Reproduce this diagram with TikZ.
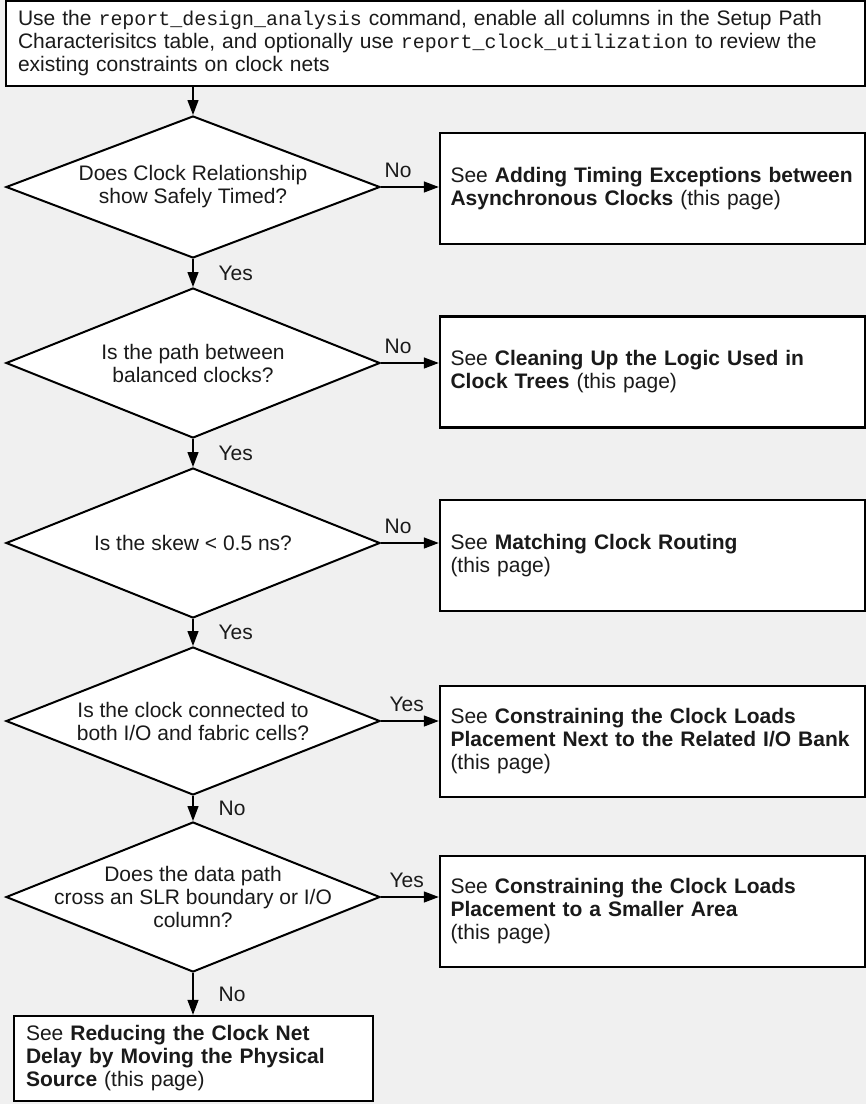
\documentclass[tikz,border=0pt]{standalone}
\usepackage{fontspec}
\setmainfont{Liberation Sans}
\setmonofont{Liberation Mono}[Scale=0.95]
\usepackage{tikz}
\usetikzlibrary{shapes.geometric}
\usetikzlibrary{arrows.meta}
\definecolor{bggray}{HTML}{F0F0F0}
\definecolor{ink}{HTML}{1A1A1A}
\tikzstyle{every node}=[font=\fontsize{21}{23}\selectfont, text=ink]
\tikzstyle{box}=[draw, line width=2.4pt, fill=white, align=left, minimum height=111pt, text width=404pt, inner xsep=10.5pt]
\tikzstyle{decision}=[draw, diamond, line width=2pt, fill=white, minimum width=374pt, minimum height=150pt, inner sep=0pt]
\tikzstyle{question}=[align=center, inner sep=0pt]
\tikzstyle{flow}=[line width=1.3pt, -{Triangle[length=15pt,width=11pt]}]
\tikzstyle{answer}=[inner sep=0pt]

\begin{document}
\begin{tikzpicture}[x=1pt, y=-1pt]
                \useasboundingbox[fill=bggray] (0,0) rectangle (866,1104);

                \node[box, text width=835pt, inner xsep=12pt, minimum height=85pt] (start) at (435.5,43.5) {Use the \texttt{report\_design\_analysis} command, enable all columns in the Setup Path\\ Characterisitcs table, and optionally use \texttt{report\_clock\_utilization} to review the\\ existing constraints on clock nets};

                % decisions down the left
                \node[decision, minimum height=142pt] (d1) at (193,187) {};
                \node[question] (q1) at (d1) {Does Clock Relationship\\ show Safely Timed?};
                \node[decision] (d2) at (193,363) {};
                \node[question] (q2) at (d2) {Is the path between\\ balanced clocks?};
                \node[decision] (d3) at (193,543) {};
                \node[question] (q3) at (d3) {Is the skew < 0.5 ns?};
                \node[decision, minimum height=148pt] (d4) at (193,721) {};
                \node[question] (q4) at (d4) {Is the clock connected to\\ both I/O and fabric cells?};
                \node[decision] (d5) at (193,897) {};
                \node[question] (q5) at (d5) {Does the data path\\ cross an SLR boundary or I/O\\ column?};

                % boxes on the right
                \node[box] (b1) at (652.5,188.5) {See \textbf{Adding Timing Exceptions between}\\ \textbf{Asynchronous Clocks} (this page)};
                \node[box] (b2) at (652.5,372) {See \textbf{Cleaning Up the Logic Used in}\\ \textbf{Clock Trees} (this page)};
                \node[box] (b3) at (652.5,555.5) {See \textbf{Matching Clock Routing}\\ (this page)};
                \node[box] (b4) at (652.5,741.5) {See \textbf{Constraining the Clock Loads}\\ \textbf{Placement Next to the Related I/O Bank}\\ (this page)};
                \node[box] (b5) at (652.5,911.5) {See \textbf{Constraining the Clock Loads}\\ \textbf{Placement to a Smaller Area}\\ (this page)};
                \node[box, text width=335pt, inner xsep=12pt, minimum height=85pt] (fin) at (193.5,1058.5) {See \textbf{Reducing the Clock Net}\\ \textbf{Delay by Moving the Physical}\\ \textbf{Source} (this page)};

                \draw[flow] (start.south -| d1.north) -- (d1.north);
                \draw[flow] (d1.south) -- (d2.north) node[answer, midway, anchor=west, xshift=25pt] {Yes};
                \draw[flow] (d2.south) -- (d3.north) node[answer, midway, anchor=west, xshift=25pt] {Yes};
                \draw[flow] (d3.south) -- (d4.north) node[answer, midway, anchor=west, xshift=25pt] {Yes};
                \draw[flow] (d4.south) -- (d5.north) node[answer, midway, anchor=west, xshift=25pt] {No};
                \draw[flow] (d5.south) -- (d5.south |- fin.north) node[answer, midway, anchor=west, xshift=25pt] {No};

                \draw[flow] (d1.east) -- (d1.east -| b1.west) node[answer, pos=0, anchor=base west, xshift=3pt, yshift=10pt] {No};
                \draw[flow] (d2.east) -- (d2.east -| b2.west) node[answer, pos=0, anchor=base west, xshift=3pt, yshift=10pt] {No};
                \draw[flow] (d3.east) -- (d3.east -| b3.west) node[answer, pos=0, anchor=base west, xshift=3pt, yshift=10pt] {No};
                \draw[flow] (d4.east) -- (d4.east -| b4.west) node[answer, pos=0, anchor=base west, xshift=8pt, yshift=10pt] {Yes};
                \draw[flow] (d5.east) -- (d5.east -| b5.west) node[answer, pos=0, anchor=base west, xshift=8pt, yshift=10pt] {Yes};
            \end{tikzpicture}
\end{document}
